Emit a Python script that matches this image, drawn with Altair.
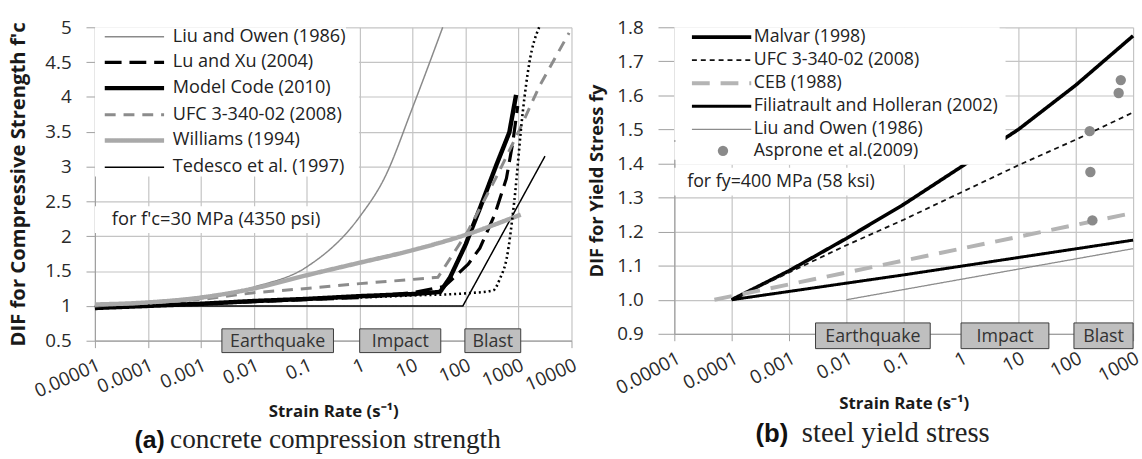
import altair as alt
import pandas as pd

FONT = "Open Sans"
SERIF = "Liberation Serif"

# ---------------- panel (a): concrete compression strength ----------------
A_NAMES = ["Liu and Owen (1986)", "Lu and Xu (2004)", "Model Code (2010)",
           "UFC 3-340-02 (2008)", "Williams (1994)", "Tedesco et al. (1997)"]

liu_a_rate = [1e-5, 1e-4, 1e-3, 1e-2, 1e-1, 1, 3, 10, 37]
liu_a_dif = [1.00, 1.03, 1.10, 1.27, 1.56, 2.28, 2.85, 3.85, 5.00]

luxu_rate = [1e-5, 1e-2, 1, 10, 40, 112, 186, 355, 590, 780, 966]
luxu_dif = [0.98, 1.06, 1.12, 1.19, 1.28, 1.60, 1.83, 2.31, 2.83, 3.35, 3.87]

mc_rate = [1e-5, 1e-4, 1e-3, 1e-2, 1e-1, 1, 10, 33, 51, 100, 186, 380, 670, 900]
mc_dif = [0.97, 1.00, 1.03, 1.07, 1.10, 1.14, 1.17, 1.20, 1.41, 1.88, 2.40, 3.02, 3.49, 4.03]

ufc_a_rate = [1e-5, 1e-4, 1e-3, 1e-2, 1e-1, 1, 10, 30, 110, 370, 1000, 2500, 9000]
ufc_a_dif = [1.00, 1.05, 1.09, 1.19, 1.25, 1.32, 1.38, 1.41, 2.07, 2.83, 3.50, 4.16, 4.92]

wil_rate = [1e-5, 1e-4, 1e-3, 1e-2, 1e-1, 1, 10, 100, 1100]
wil_dif = [1.02, 1.05, 1.12, 1.25, 1.44, 1.62, 1.80, 2.02, 2.31]

ted_rate = [1e-5, 89, 3160]
ted_dif = [1.00, 1.00, 3.15]

# unlabelled dotted curve
dot_rate = [1e-4, 1e-3, 1e-2, 1e-1, 1, 10, 100, 330, 450, 600, 830, 1200, 1600, 2450]
dot_dif = [1.00, 1.03, 1.06, 1.09, 1.12, 1.15, 1.18, 1.22, 1.40, 1.69, 2.50, 3.78, 4.49, 5.00]

CAT_NAMES = ["Earthquake", "Impact", "Blast"]
a_cat_from = [0.0025, 1.0, 97]
a_cat_to = [0.32, 34, 1100]

A_TICKS_X = [1e-5, 1e-4, 1e-3, 1e-2, 1e-1, 1, 10, 100, 1000, 10000]
A_TICKS_Y = [0.5, 1, 1.5, 2, 2.5, 3, 3.5, 4, 4.5, 5]

# ---------------- panel (b): steel yield stress ----------------
B_NAMES = ["Malvar (1998)", "UFC 3-340-02 (2008)", "CEB (1988)",
           "Filiatrault and Holleran (2002)", "Liu and Owen (1986)"]

mal_rate = [1e-4, 1e-3, 1e-2, 1e-1, 1, 10, 100, 1000]
mal_dif = [1.00, 1.085, 1.18, 1.28, 1.39, 1.50, 1.63, 1.775]

ufc_b_rate = [1e-4, 1e-3, 1e-2, 1e-1, 1, 10, 100, 1000]
ufc_b_dif = [1.00, 1.08, 1.16, 1.235, 1.315, 1.395, 1.47, 1.55]

ceb_rate = [5e-5, 1e-3, 1e-2, 1e-1, 1, 10, 100, 1000]
ceb_dif = [1.00, 1.045, 1.08, 1.115, 1.15, 1.185, 1.22, 1.255]

fil_rate = [1e-4, 1e-1, 1000]
fil_dif = [1.00, 1.073, 1.175]

liu_b_rate = [1e-2, 1000]
liu_b_dif = [1.00, 1.15]

ASPRONE = "Asprone et al.(2009)"
asp_rate = [175, 180, 195, 610, 560]
asp_dif = [1.495, 1.375, 1.233, 1.645, 1.607]

b_cat_from = [0.0029, 1.0, 93]
b_cat_to = [0.29, 34, 1000]

B_TICKS_X = [1e-5, 1e-4, 1e-3, 1e-2, 1e-1, 1, 10, 100, 1000]
B_TICKS_Y = [0.9, 1.0, 1.1, 1.2, 1.3, 1.4, 1.5, 1.6, 1.7, 1.8]

# ---------------- styles ----------------
A_STYLE = {
    "Liu and Owen (1986)": ("#8a8a8a", [1, 0], 1.5),
    "Lu and Xu (2004)": ("#000000", [17, 8], 3.2),
    "Model Code (2010)": ("#000000", [1, 0], 4.5),
    "UFC 3-340-02 (2008)": ("#8c8c8c", [11, 8], 3.0),
    "Williams (1994)": ("#a9a9a9", [1, 0], 4.5),
    "Tedesco et al. (1997)": ("#000000", [1, 0], 1.5),
}
A_SMOOTH = ["Liu and Owen (1986)", "Williams (1994)"]
B_STYLE = {
    "Malvar (1998)": ("#000000", [1, 0], 3.6),
    "UFC 3-340-02 (2008)": ("#111111", [5, 4], 1.8),
    "CEB (1988)": ("#b4b4b4", [18, 11], 4.0),
    "Filiatrault and Holleran (2002)": ("#000000", [1, 0], 3.0),
    "Liu and Owen (1986)": ("#8c8c8c", [1, 0], 1.3),
}


def frame(name, rates, difs):
    return pd.DataFrame({"series": name, "rate": rates, "dif": difs})


df_a = pd.concat([
    frame(A_NAMES[0], liu_a_rate, liu_a_dif),
    frame(A_NAMES[1], luxu_rate, luxu_dif),
    frame(A_NAMES[2], mc_rate, mc_dif),
    frame(A_NAMES[3], ufc_a_rate, ufc_a_dif),
    frame(A_NAMES[4], wil_rate, wil_dif),
    frame(A_NAMES[5], ted_rate, ted_dif),
], ignore_index=True)
df_a["w"] = df_a["series"].map(lambda s: A_STYLE[s][2])
df_dot = pd.DataFrame({"rate": dot_rate, "dif": dot_dif})

df_b = pd.concat([
    frame(B_NAMES[0], mal_rate, mal_dif),
    frame(B_NAMES[1], ufc_b_rate, ufc_b_dif),
    frame(B_NAMES[2], ceb_rate, ceb_dif),
    frame(B_NAMES[3], fil_rate, fil_dif),
    frame(B_NAMES[4], liu_b_rate, liu_b_dif),
], ignore_index=True)
df_b["w"] = df_b["series"].map(lambda s: B_STYLE[s][2])
df_asp = pd.DataFrame({"src": ASPRONE, "rate": asp_rate, "dif": asp_dif})


def cat_frame(lo, hi):
    d = pd.DataFrame({"name": CAT_NAMES, "x0": lo, "x1": hi})
    d["xc"] = (d["x0"] * d["x1"]) ** 0.5
    return d


cat_a = cat_frame(a_cat_from, a_cat_to)
cat_b = cat_frame(b_cat_from, b_cat_to)


def width_expr(style):
    e = "2"
    for k, v in style.items():
        e = f"datum.value === '{k}' ? {v[2]} : ({e})"
    return e


ONE = pd.DataFrame({"k": [0]})


def white_box(x0, x1, y0, y1):
    return alt.Chart(ONE).mark_rect(fill="white").encode(
        x=alt.value(x0), x2=alt.value(x1), y=alt.value(y0), y2=alt.value(y1))


def make_panel(style, names, xdom, xticks, ydom, yticks, yfmt, ytitle, cfg, cats, box_y):
    xs = alt.Scale(type="log", domain=xdom, nice=False)
    xaxis = alt.Axis(values=xticks, format="~f", labelAngle=cfg["angle"],
                     labelFont=FONT, labelFontSize=19, labelPadding=8,
                     labelOverlap=False, labelFlush=False, tickSize=7,
                     title="Strain Rate (s\u207b\u00b9)", titleFont=FONT,
                     titleFontSize=17, titleFontWeight="bold", titlePadding=cfg["xtp"])
    ys = alt.Scale(domain=ydom, nice=False, zero=False)
    yaxis = alt.Axis(values=yticks, format=yfmt, labelFont=FONT, labelFontSize=19,
                     labelPadding=cfg["ylp"], tickSize=cfg["yts"], title=ytitle, titleFont=FONT,
                     titleFontSize=cfg["ytf"], titleFontWeight="bold", titlePadding=cfg["ytp"])
    X = lambda f: alt.X(f, scale=xs, axis=xaxis)
    Y = lambda f: alt.Y(f, scale=ys, axis=yaxis)

    leg = alt.Legend(title=None, orient="none", legendX=0, legendY=0,
                     direction="vertical", fillColor="white",
                     padding=cfg["pad"], rowPadding=cfg["rowPad"],
                     symbolType="M-6,0L6,0", symbolSize=100,
                     symbolOffset=cfg["symOff"], labelOffset=cfg["labOff"],
                     labelFont=FONT, labelFontSize=cfg["lfs"], labelColor="#222",
                     labelLimit=0, symbolStrokeWidth={"expr": width_expr(style)})
    enc = dict(
        x=X("rate:Q"), y=Y("dif:Q"),
        color=alt.Color("series:N", scale=alt.Scale(domain=names, range=[style[n][0] for n in names]), legend=leg),
        strokeDash=alt.StrokeDash("series:N", scale=alt.Scale(domain=names, range=[style[n][1] for n in names]), legend=leg),
        strokeWidth=alt.StrokeWidth("w:Q", scale=None, legend=None),
    )
    boxes = alt.Chart(cats).mark_rect(fill="#bfbfbf", stroke="#3c3c3c", strokeWidth=1).encode(
        x=X("x0:Q"), x2="x1:Q", y=alt.value(box_y[0]), y2=alt.value(box_y[1]))
    box_text = alt.Chart(cats).mark_text(font=FONT, fontSize=18, color="#333").encode(
        x=X("xc:Q"), y=alt.value((box_y[0] + box_y[1]) / 2 + 1), text="name:N")
    return enc, boxes, box_text, X, Y


# ---- panel a ----
enc_a, boxes_a, btext_a, XA, YA = make_panel(
    A_STYLE, A_NAMES, [1e-5, 1e4], A_TICKS_X, [0.5, 5], A_TICKS_Y, "~g",
    "DIF for Compressive Strength f'c",
    dict(angle=-24, xtp=3, ylp=15, yts=9, ytf=20.5, ytp=16, pad=0.4, rowPad=7.0,
         symOff=30.4, labOff=29.7, lfs=18.3),
    cat_a, (305, 329))

lines_a_lin = alt.Chart(df_a).transform_filter(
    alt.FieldOneOfPredicate(field="series", oneOf=[n for n in A_NAMES if n not in A_SMOOTH])
).mark_line().encode(**enc_a)
lines_a_smooth = alt.Chart(df_a).transform_filter(
    alt.FieldOneOfPredicate(field="series", oneOf=A_SMOOTH)
).mark_line(interpolate="monotone").encode(**enc_a)

dots_a = alt.Chart(df_dot).mark_line(color="black", strokeDash=[2, 3], strokeWidth=2.6,
                                     interpolate="monotone").encode(x=XA("rate:Q"), y=YA("dif:Q"))
note_a = alt.Chart(ONE).mark_text(align="left", baseline="middle", font=FONT, fontSize=18.5, color="#222").encode(
    x=alt.value(17), y=alt.value(194), text=alt.value("for f'c=30 MPa (4350 psi)"))
cap_a1 = alt.Chart(ONE).mark_text(align="left", baseline="alphabetic", font="Liberation Sans",
                                  fontWeight="bold", fontSize=25, color="#111").encode(
    x=alt.value(40), y=alt.value(426), text=alt.value("(a)"))
cap_a2 = alt.Chart(ONE).mark_text(align="left", baseline="alphabetic", font=SERIF,
                                  fontSize=27.5, color="#222").encode(
    x=alt.value(76), y=alt.value(426), text=alt.value("concrete compression strength"))

left = alt.layer(white_box(0, 250, 181, 208), lines_a_lin, lines_a_smooth, dots_a,
                 white_box(1.5, 267, 1.5, 149), boxes_a, btext_a,
                 note_a, cap_a1, cap_a2).properties(width=482, height=317)

# ---- panel b ----
enc_b, boxes_b, btext_b, XB, YB = make_panel(
    B_STYLE, B_NAMES, [1e-5, 1e3], B_TICKS_X, [0.9, 1.8], B_TICKS_Y, ".1f",
    "DIF for Yield Stress fy",
    dict(angle=-28, xtp=-2, ylp=15, yts=16.5, ytf=18.5, ytp=10, pad=1.0, rowPad=4.3,
         symOff=37.85, labOff=23.7, lfs=17.9),
    cat_b, (299, 325))
lines_b = alt.Chart(df_b).mark_line().encode(**enc_b)

leg_pts = alt.Legend(title=None, orient="none", legendX=0, legendY=116, direction="vertical",
                     fillColor="white", padding=0, symbolSize=110, symbolOffset=40.25,
                     labelOffset=22.3, labelFont=FONT, labelFontSize=17.9, labelColor="#222",
                     symbolFillColor="#8a8a8a", symbolStrokeWidth=0, labelLimit=0)
pts_b = alt.Chart(df_asp).mark_point(filled=True, size=110, color="#8a8a8a", opacity=1).encode(
    x=XB("rate:Q"), y=YB("dif:Q"),
    shape=alt.Shape("src:N", scale=alt.Scale(domain=[ASPRONE], range=["circle"]), legend=leg_pts))
note_b = alt.Chart(ONE).mark_text(align="left", baseline="middle", font=FONT, fontSize=18, color="#222").encode(
    x=alt.value(13), y=alt.value(157), text=alt.value("for fy=400 MPa (58 ksi)"))
cap_b1 = alt.Chart(ONE).mark_text(align="left", baseline="alphabetic", font="Liberation Sans",
                                  fontWeight="bold", fontSize=26, color="#111").encode(
    x=alt.value(82), y=alt.value(419), text=alt.value("(b)"))
cap_b2 = alt.Chart(ONE).mark_text(align="left", baseline="alphabetic", font=SERIF,
                                  fontSize=29, color="#222").encode(
    x=alt.value(129), y=alt.value(419), text=alt.value("steel yield stress"))

right = alt.layer(white_box(0, 232, 142, 170), lines_b, white_box(1.5, 335, 1.5, 139),
                  pts_b, boxes_b, btext_b, note_b, cap_b1, cap_b2).properties(
    width=464, height=310)

chart = alt.hconcat(left, right, spacing=104, bounds="flush").resolve_scale(
    color="independent", strokeDash="independent", shape="independent"
).properties(
    padding={"left": 9, "top": 16, "right": 0, "bottom": 0},
    background="white",
).configure_view(stroke=None).configure_axis(
    gridColor="#c4c4c4", gridWidth=1.2, domainColor="#a0a0a0", tickColor="#a0a0a0",
    labelColor="#2a2a2a", titleColor="#1a1a1a", domainWidth=1.2,
)

chart.save("out.html", embed_options={"renderer": "svg", "actions": False})
